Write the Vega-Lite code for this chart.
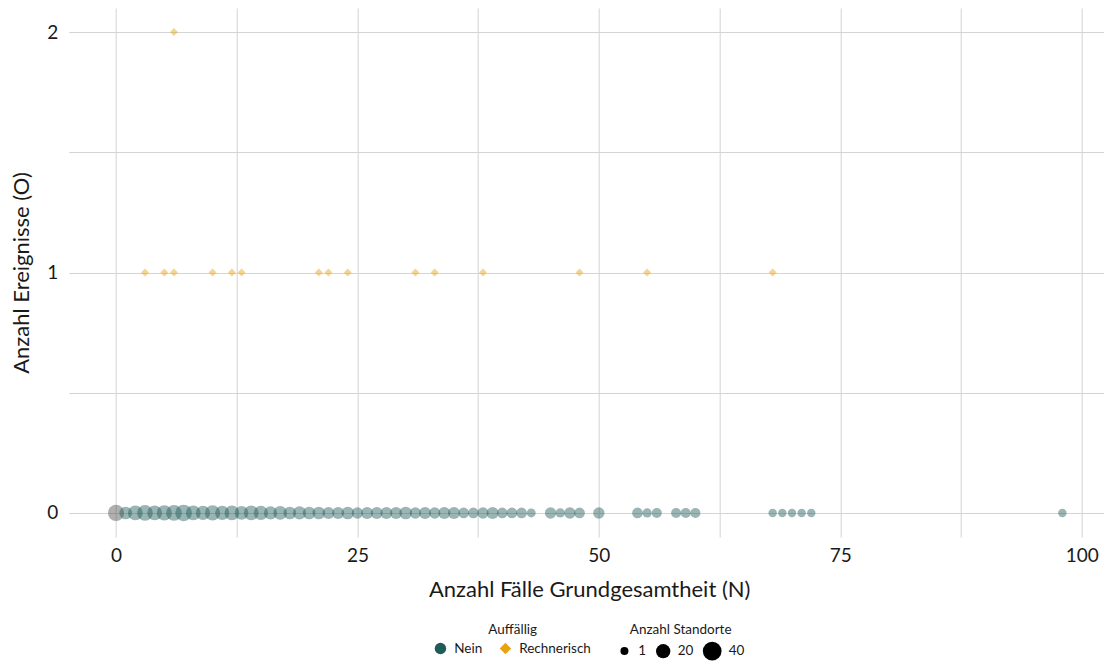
{
  "$schema": "https://vega.github.io/schema/vega-lite/v6.json",
  "autosize": "none",
  "width": 1041,
  "height": 529,
  "padding": {"left": 68.7, "top": 8, "right": 0, "bottom": 127},
  "background": "white",
  "config": {
    "font": "Lato",
    "view": {"stroke": null},
    "axis": {"grid": true, "gridColor": "#d4d4d4", "gridWidth": 1, "domain": false, "ticks": false, "labelFont": "Lato", "titleFont": "Lato", "labelColor": "#1a1a1a", "titleColor": "#1a1a1a", "titleFontWeight": "normal"},
    "legend": {"labelFont": "Lato", "titleFont": "Lato", "titleFontWeight": "normal", "labelFontSize": 13.5, "titleFontSize": 13.5, "labelColor": "#1a1a1a", "titleColor": "#1a1a1a", "labelOffset": 7, "layout": {"bottom": {"anchor": "middle", "margin": 26}}}
  },
  "data": {"values": [
    {"N": 0, "O": 0, "A": "NA", "n": 28},
    {"N": 1, "O": 0, "A": "Nein", "n": 14},
    {"N": 2, "O": 0, "A": "Nein", "n": 22},
    {"N": 3, "O": 0, "A": "Nein", "n": 26},
    {"N": 4, "O": 0, "A": "Nein", "n": 22},
    {"N": 5, "O": 0, "A": "Nein", "n": 24},
    {"N": 6, "O": 0, "A": "Nein", "n": 26},
    {"N": 7, "O": 0, "A": "Nein", "n": 30},
    {"N": 8, "O": 0, "A": "Nein", "n": 22},
    {"N": 9, "O": 0, "A": "Nein", "n": 20},
    {"N": 10, "O": 0, "A": "Nein", "n": 24},
    {"N": 11, "O": 0, "A": "Nein", "n": 20},
    {"N": 12, "O": 0, "A": "Nein", "n": 22},
    {"N": 13, "O": 0, "A": "Nein", "n": 18},
    {"N": 14, "O": 0, "A": "Nein", "n": 22},
    {"N": 15, "O": 0, "A": "Nein", "n": 20},
    {"N": 16, "O": 0, "A": "Nein", "n": 16},
    {"N": 17, "O": 0, "A": "Nein", "n": 18},
    {"N": 18, "O": 0, "A": "Nein", "n": 14},
    {"N": 19, "O": 0, "A": "Nein", "n": 16},
    {"N": 20, "O": 0, "A": "Nein", "n": 14},
    {"N": 21, "O": 0, "A": "Nein", "n": 14},
    {"N": 22, "O": 0, "A": "Nein", "n": 12},
    {"N": 23, "O": 0, "A": "Nein", "n": 12},
    {"N": 24, "O": 0, "A": "Nein", "n": 14},
    {"N": 25, "O": 0, "A": "Nein", "n": 10},
    {"N": 26, "O": 0, "A": "Nein", "n": 12},
    {"N": 27, "O": 0, "A": "Nein", "n": 12},
    {"N": 28, "O": 0, "A": "Nein", "n": 12},
    {"N": 29, "O": 0, "A": "Nein", "n": 12},
    {"N": 30, "O": 0, "A": "Nein", "n": 14},
    {"N": 31, "O": 0, "A": "Nein", "n": 10},
    {"N": 32, "O": 0, "A": "Nein", "n": 12},
    {"N": 33, "O": 0, "A": "Nein", "n": 10},
    {"N": 34, "O": 0, "A": "Nein", "n": 12},
    {"N": 35, "O": 0, "A": "Nein", "n": 12},
    {"N": 36, "O": 0, "A": "Nein", "n": 8},
    {"N": 37, "O": 0, "A": "Nein", "n": 8},
    {"N": 38, "O": 0, "A": "Nein", "n": 10},
    {"N": 39, "O": 0, "A": "Nein", "n": 12},
    {"N": 40, "O": 0, "A": "Nein", "n": 8},
    {"N": 41, "O": 0, "A": "Nein", "n": 8},
    {"N": 42, "O": 0, "A": "Nein", "n": 8},
    {"N": 43, "O": 0, "A": "Nein", "n": 3},
    {"N": 45, "O": 0, "A": "Nein", "n": 10},
    {"N": 46, "O": 0, "A": "Nein", "n": 4},
    {"N": 47, "O": 0, "A": "Nein", "n": 10},
    {"N": 48, "O": 0, "A": "Nein", "n": 8},
    {"N": 50, "O": 0, "A": "Nein", "n": 10},
    {"N": 54, "O": 0, "A": "Nein", "n": 8},
    {"N": 55, "O": 0, "A": "Nein", "n": 4},
    {"N": 56, "O": 0, "A": "Nein", "n": 6},
    {"N": 58, "O": 0, "A": "Nein", "n": 6},
    {"N": 59, "O": 0, "A": "Nein", "n": 6},
    {"N": 60, "O": 0, "A": "Nein", "n": 6},
    {"N": 68, "O": 0, "A": "Nein", "n": 2},
    {"N": 69, "O": 0, "A": "Nein", "n": 2},
    {"N": 70, "O": 0, "A": "Nein", "n": 2},
    {"N": 71, "O": 0, "A": "Nein", "n": 2},
    {"N": 72, "O": 0, "A": "Nein", "n": 2},
    {"N": 98, "O": 0, "A": "Nein", "n": 2},
    {"N": 3, "O": 1, "A": "Rechnerisch", "n": 1},
    {"N": 5, "O": 1, "A": "Rechnerisch", "n": 1},
    {"N": 6, "O": 1, "A": "Rechnerisch", "n": 1},
    {"N": 10, "O": 1, "A": "Rechnerisch", "n": 1},
    {"N": 12, "O": 1, "A": "Rechnerisch", "n": 1},
    {"N": 13, "O": 1, "A": "Rechnerisch", "n": 1},
    {"N": 21, "O": 1, "A": "Rechnerisch", "n": 1},
    {"N": 22, "O": 1, "A": "Rechnerisch", "n": 1},
    {"N": 24, "O": 1, "A": "Rechnerisch", "n": 1},
    {"N": 31, "O": 1, "A": "Rechnerisch", "n": 1},
    {"N": 33, "O": 1, "A": "Rechnerisch", "n": 1},
    {"N": 38, "O": 1, "A": "Rechnerisch", "n": 1},
    {"N": 48, "O": 1, "A": "Rechnerisch", "n": 1},
    {"N": 55, "O": 1, "A": "Rechnerisch", "n": 1},
    {"N": 68, "O": 1, "A": "Rechnerisch", "n": 1},
    {"N": 6, "O": 2, "A": "Rechnerisch", "n": 1}
  ]},
  "mark": {"type": "point", "filled": true, "opacity": 0.45, "strokeWidth": 0},
  "encoding": {
    "x": {"field": "N", "type": "quantitative", "scale": {"domain": [-4.9, 102.9], "nice": false, "zero": false},
      "axis": {"values": [0, 12.5, 25, 37.5, 50, 62.5, 75, 87.5, 100], "labelExpr": "datum.value % 25 === 0 ? datum.label : ''", "labelFontSize": 19, "titleFontSize": 22, "labelPadding": 10, "titlePadding": 14, "title": "Anzahl Fälle Grundgesamtheit (N)"}},
    "y": {"field": "O", "type": "quantitative", "scale": {"domain": [-0.1, 2.1], "nice": false, "zero": false},
      "axis": {"values": [0, 0.5, 1, 1.5, 2], "labelExpr": "datum.value % 1 === 0 ? format(datum.value, 'd') : ''", "labelFontSize": 19, "titleFontSize": 22, "labelPadding": 11, "titlePadding": 13, "title": "Anzahl Ereignisse (O)"}},
    "color": {
      "field": "A", "type": "nominal", "title": "Auffällig",
      "scale": {"domain": ["Nein", "Rechnerisch", "NA"], "range": ["#1f5c58", "#e9a212", "#4d4d4d"]},
      "legend": {"orient": "bottom", "direction": "horizontal", "titleAnchor": "middle", "values": ["Nein", "Rechnerisch"], "symbolOpacity": 1, "symbolSize": 130, "offset": 22, "columnPadding": 14}
    },
    "shape": {
      "field": "A", "type": "nominal", "title": "Auffällig",
      "scale": {"domain": ["Nein", "Rechnerisch", "NA"], "range": ["circle", "diamond", "circle"]},
      "legend": {"orient": "bottom", "direction": "horizontal", "titleAnchor": "middle", "values": ["Nein", "Rechnerisch"], "symbolOpacity": 1, "symbolSize": 130, "offset": 22, "columnPadding": 14}
    },
    "size": {
      "field": "n", "type": "quantitative", "title": "Anzahl Standorte",
      "scale": {"domain": [1, 40], "range": [64, 350], "zero": false},
      "legend": {"orient": "bottom", "direction": "horizontal", "titleAnchor": "middle", "values": [1, 20, 40], "symbolType": "circle", "symbolFillColor": "black", "symbolStrokeColor": "black", "symbolStrokeWidth": 0, "symbolOpacity": 1, "offset": 22, "columnPadding": 9}
    }
  }
}
